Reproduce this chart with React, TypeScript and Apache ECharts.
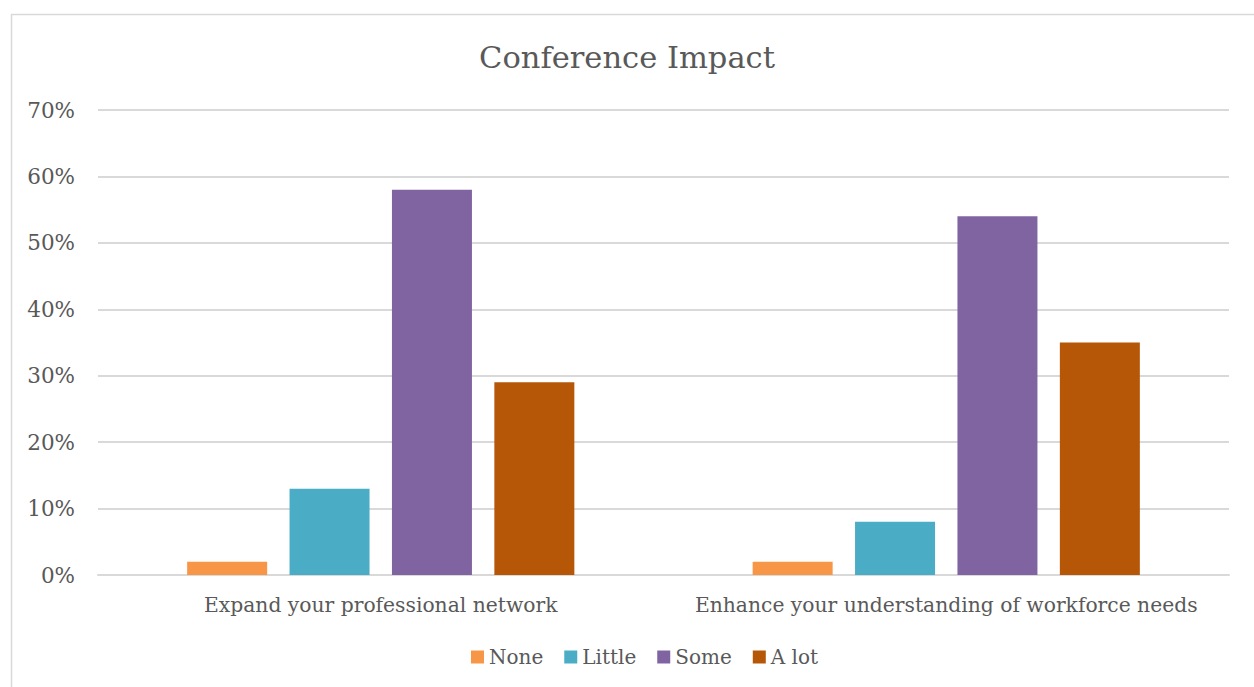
import React, { useEffect, useRef } from "react";
import * as echarts from "echarts";

const categories = ["Expand your professional network", "Enhance your understanding of workforce needs"];
const seriesNames = ["None", "Little", "Some", "A lot"];
const noneValues = [2, 2];
const littleValues = [13, 8];
const someValues = [58, 54];
const aLotValues = [29, 35];
const colors = ["#F79646", "#4BACC6", "#8064A2", "#B65708"];

const FONT = "'DejaVu Serif', serif";

export default function App() {
  const ref = useRef<HTMLDivElement>(null);
  useEffect(() => {
    if (!ref.current) return;
    const chart = echarts.init(ref.current, undefined, { renderer: "svg" });
    const values = [noneValues, littleValues, someValues, aLotValues];
    chart.setOption({
      animation: false,
      backgroundColor: "#ffffff",
      title: {
        text: "Conference Impact",
        left: "center",
        top: 37,
        textStyle: { fontFamily: FONT, fontSize: 30.5, fontWeight: "normal", color: "#595959" },
      },
      graphic: [
        {
          type: "rect",
          shape: { x: 11.5, y: 14.5, width: 1260, height: 690 },
          style: { fill: "none", stroke: "#d9d9d9", lineWidth: 1.5 },
          silent: true,
        },
      ],
      legend: {
        bottom: 15,
        left: 466,
        itemWidth: 13,
        itemHeight: 13,
        itemGap: 21,
        icon: "rect",
        textStyle: { fontFamily: FONT, fontSize: 20, color: "#595959" },
        data: seriesNames,
      },
      grid: { left: 98, right: 25, top: 110, bottom: 112 },
      xAxis: {
        type: "category",
        data: categories,
        axisLine: { lineStyle: { color: "#d9d9d9", width: 2 } },
        axisTick: { show: false },
        axisLabel: { interval: 0, fontFamily: FONT, fontSize: 20.3, color: "#595959", margin: 20 },
      },
      yAxis: {
        type: "value",
        min: 0,
        max: 70,
        interval: 10,
        axisLine: { show: false },
        axisTick: { show: false },
        splitLine: { lineStyle: { color: "#d9d9d9", width: 2 } },
        axisLabel: { fontFamily: FONT, fontSize: 21.5, color: "#595959", margin: 23, formatter: "{value}%" },
      },
      series: seriesNames.map((name, i) => ({
        name,
        type: "bar",
        data: values[i],
        barWidth: 80,
        barGap: "28%",
        itemStyle: { color: colors[i] },
      })),
    });
    return () => chart.dispose();
  }, []);
  return (
    <div
      ref={ref}
      style={{ position: "fixed", left: 0, top: 0, width: 1254, height: 687 }}
    />
  );
}
